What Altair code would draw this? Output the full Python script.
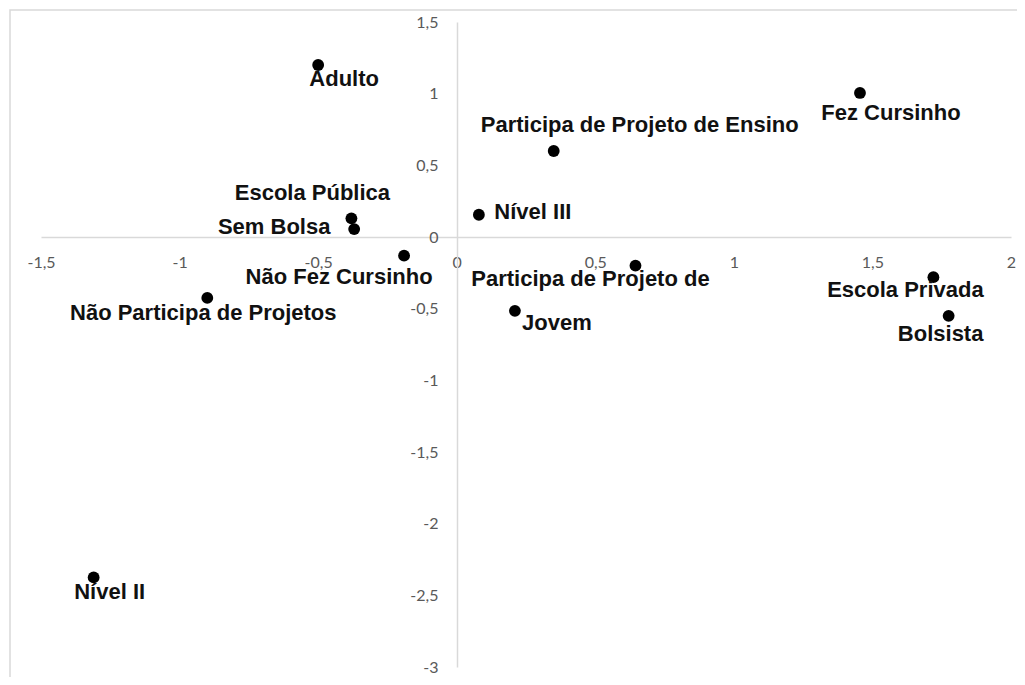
import altair as alt
import pandas as pd

# ---- data ----
labels = [
    "Adulto", "Escola Pública", "Sem Bolsa", "Não Fez Cursinho",
    "Não Participa de Projetos", "Nível III", "Participa de Projeto de Ensino",
    "Fez Cursinho", "Participa de Projeto de", "Jovem", "Escola Privada",
    "Bolsista", "Nível II",
]
dim1 = [-0.50, -0.38, -0.37, -0.19, -0.90, 0.08, 0.35, 1.455, 0.645, 0.21, 1.72, 1.775, -1.31]
dim2 = [1.20, 0.13, 0.055, -0.13, -0.425, 0.155, 0.60, 1.005, -0.20, -0.515, -0.28, -0.55, -2.375]

x_ticks = [-1.5, -1, -0.5, 0, 0.5, 1, 1.5, 2]
y_ticks = [-3, -2.5, -2, -1.5, -1, -0.5, 0, 0.5, 1, 1.5]

df = pd.DataFrame({"label": labels, "d1": dim1, "d2": dim2})

# label placement (pixel offsets of centred text from its point)
label_offsets = {
    "Adulto": (26, 14),
    "Escola Pública": (-39, -25),
    "Sem Bolsa": (-80, -2),
    "Não Fez Cursinho": (-65, 21),
    "Não Participa de Projetos": (-4, 15),
    "Nível III": (54, -3),
    "Participa de Projeto de Ensino": (86, -26),
    "Fez Cursinho": (31, 20),
    "Participa de Projeto de": (-45, 13),
    "Jovem": (42, 12),
    "Escola Privada": (-28, 13),
    "Bolsista": (-8, 18),
    "Nível II": (16, 15),
}

W, H = 970, 645
X0_PX, Y0_PX = 416, 215  # position of the origin inside the plot area

label_expr = "replace(toString(datum.value), '.', ',')"
axis_common = dict(
    ticks=False, grid=False, domainColor="#d9d9d9", domainWidth=1.5,
    labelColor="#595959", labelFont="Lato", labelFontSize=16,
    labelFlush=False, labelOverlap=False, labelBound=False,
    labelExpr=label_expr, title=None,
)

x_enc = alt.X(
    "d1:Q",
    scale=alt.Scale(domain=[-1.5, 2], nice=False, zero=False),
    axis=alt.Axis(orient="bottom", offset=-(H - Y0_PX), values=x_ticks,
                  labelPadding=25, labelBaseline="middle", **axis_common),
)
y_enc = alt.Y(
    "d2:Q",
    scale=alt.Scale(domain=[-3, 1.5], nice=False, zero=False),
    axis=alt.Axis(orient="left", offset=-X0_PX, values=y_ticks,
                  labelPadding=19, **axis_common),
)

base = alt.Chart(df)

frame = alt.Chart(pd.DataFrame({"f": [0]})).mark_rect(
    fillOpacity=0, stroke="#d9d9d9", strokeWidth=1.5
).encode(
    x=alt.value(-31), y=alt.value(-12), x2=alt.value(W + 60), y2=alt.value(H + 60)
)

points = base.mark_circle(size=140, color="#000000", opacity=1).encode(x=x_enc, y=y_enc)

text_layers = []
for name in labels:
    dx, dy = label_offsets[name]
    text_layers.append(
        base.transform_filter(alt.datum.label == name)
        .mark_text(
            dx=dx, dy=dy, align="center", baseline="middle",
            font="Liberation Sans", fontSize=22, fontWeight="bold", color="#111111",
        )
        .encode(x=x_enc, y=y_enc, text="label:N")
    )

chart = (
    alt.layer(frame, points, *text_layers)
    .properties(
        width=W, height=H,
        autosize=alt.AutoSizeParams(type="none"),
        padding={"left": 33, "top": 14, "right": 6, "bottom": 10},
    )
    .configure_view(stroke=None)
)

chart.save("out.html", embed_options={"renderer": "svg", "actions": False})
